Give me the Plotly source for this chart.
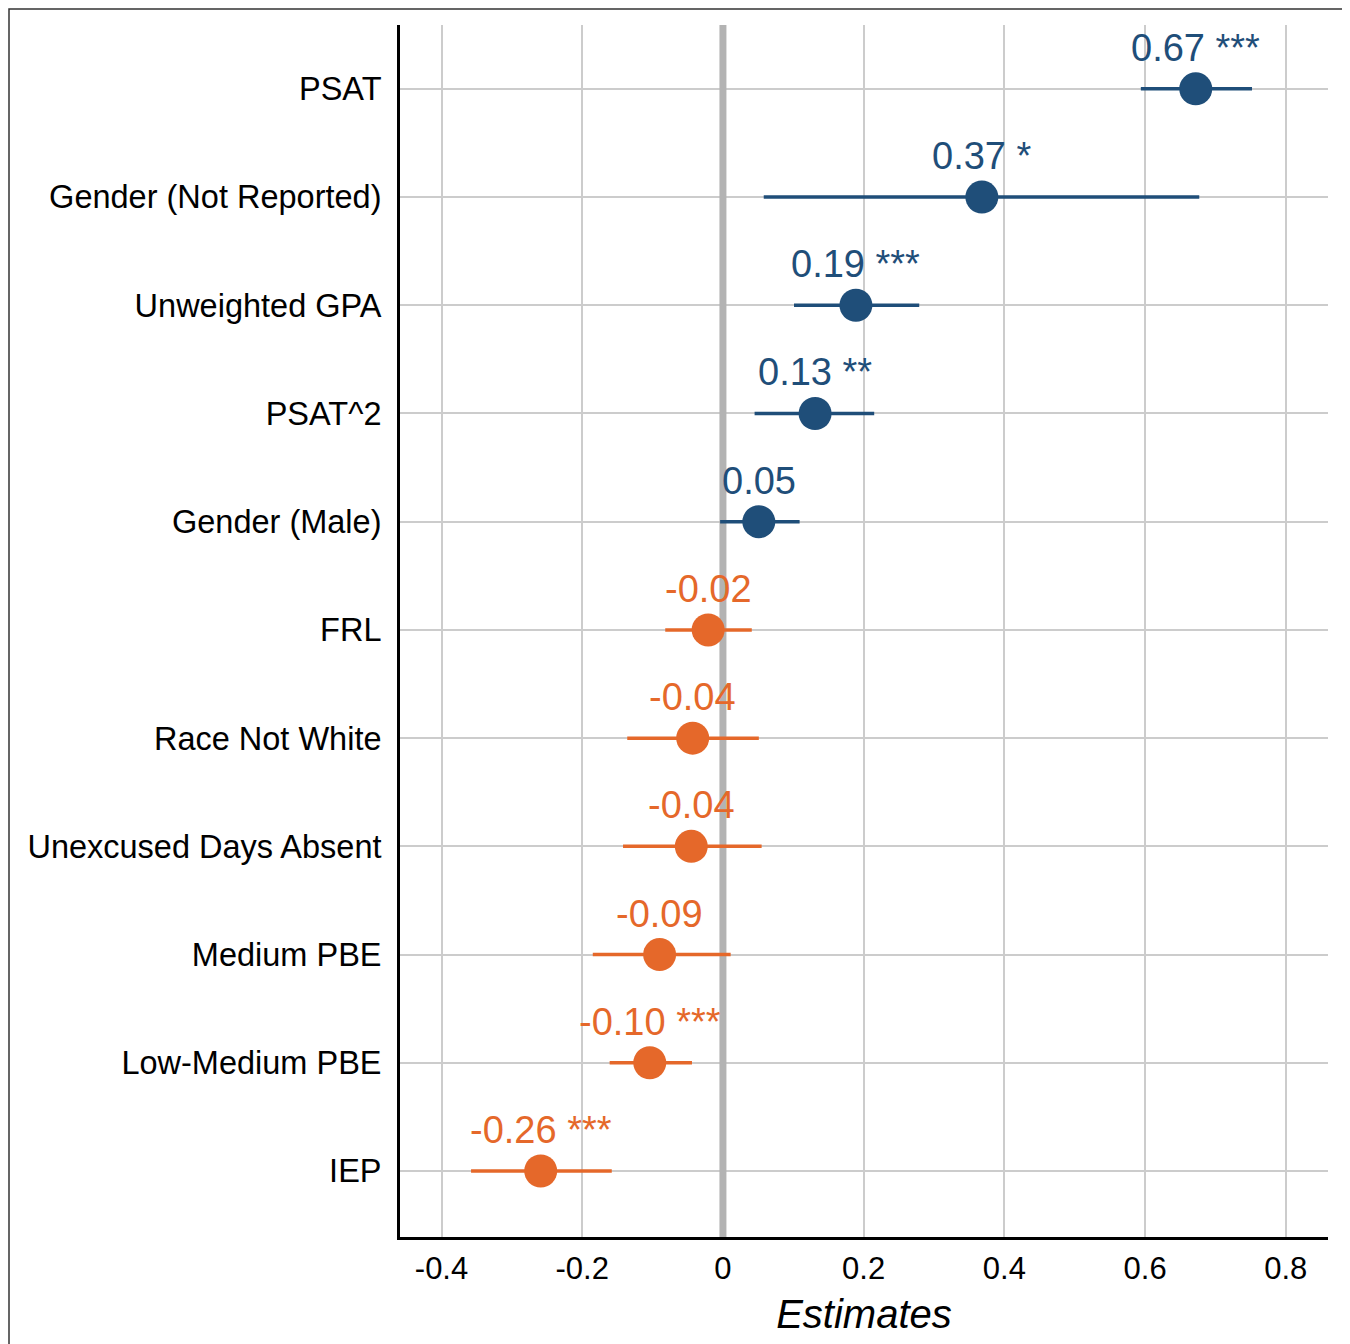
import plotly.graph_objects as go

terms = ["PSAT", "Gender (Not Reported)", "Unweighted GPA", "PSAT^2", "Gender (Male)",
         "FRL", "Race Not White", "Unexcused Days Absent", "Medium PBE",
         "Low-Medium PBE", "IEP"]
estimates = [0.672, 0.368, 0.189, 0.131, 0.051, -0.021, -0.043, -0.045, -0.090, -0.104, -0.259]
ci_low = [0.594, 0.058, 0.101, 0.045, -0.004, -0.082, -0.136, -0.142, -0.185, -0.161, -0.358]
ci_high = [0.752, 0.677, 0.279, 0.215, 0.109, 0.041, 0.051, 0.055, 0.011, -0.044, -0.158]
stars = ["***", "*", "***", "**", "", "", "", "", "", "***", "***"]
labels = ["0.67", "0.37", "0.19", "0.13", "0.05", "-0.02", "-0.04", "-0.04", "-0.09", "-0.10", "-0.26"]

tick_vals = [-0.4, -0.2, 0, 0.2, 0.4, 0.6, 0.8]
tick_text = ["-0.4", "-0.2", "0", "0.2", "0.4", "0.6", "0.8"]

BLUE = "#1F4E79"
ORANGE = "#E5682A"
FONT = "Liberation Sans, Arial, Helvetica, sans-serif"

W, H = 1342, 1336
ML, MR, MT, MB = 392, 22, 17, 107
PW, PH = W - ML - MR, H - MT - MB

ypos = list(range(len(terms)))
y_range = [len(terms) - 1 + 0.61, -0.59]

fig = go.Figure()

# reference line at zero (drawn first, below the estimates)
fig.add_trace(go.Scatter(
    x=[0, 0], y=[y_range[0], y_range[1]], mode="lines",
    line=dict(color="#B3B3B3", width=7), showlegend=False, hoverinfo="skip",
))

for positive, color in [(True, BLUE), (False, ORANGE)]:
    idx = [i for i, v in enumerate(estimates) if (v > 0) == positive]
    fig.add_trace(go.Scatter(
        x=[estimates[i] for i in idx],
        y=[ypos[i] for i in idx],
        mode="markers",
        marker=dict(color=color, size=33, line=dict(width=0)),
        error_x=dict(type="data", symmetric=False,
                     array=[ci_high[i] - estimates[i] for i in idx],
                     arrayminus=[estimates[i] - ci_low[i] for i in idx],
                     color=color, thickness=3.5, width=0),
        showlegend=False,
        hoverinfo="skip",
    ))

annotations = []
for i, t in enumerate(terms):
    color = BLUE if estimates[i] > 0 else ORANGE
    txt = labels[i] + (" " + stars[i] if stars[i] else "")
    annotations.append(dict(
        x=estimates[i], y=ypos[i], xref="x", yref="y",
        text=txt, showarrow=False, xanchor="center", yanchor="middle",
        yshift=41, font=dict(size=38, color=color, family=FONT),
    ))

# frame around the whole figure (in paper coordinates)
fx0 = (1 - ML) / PW
fx1 = (W - 2 - ML) / PW
fy1 = 1 + (MT - 1) / PH
fy0 = -(MB + 20) / PH

fig.update_layout(
    width=W, height=H,
    margin=dict(l=ML, r=MR, t=MT, b=MB),
    paper_bgcolor="white", plot_bgcolor="white",
    font=dict(family=FONT, color="black"),
    annotations=annotations,
    shapes=[
        dict(type="rect", xref="paper", yref="paper", x0=fx0, x1=fx1,
             y0=fy0, y1=fy1, line=dict(color="#333333", width=1.5),
             fillcolor="rgba(0,0,0,0)", layer="above"),
    ],
    xaxis=dict(
        range=[-0.459, 0.86], tickvals=tick_vals, ticktext=tick_text,
        showgrid=True, gridcolor="#CCCCCC", gridwidth=2, zeroline=False,
        showline=True, linecolor="black", linewidth=3,
        ticks="outside", ticklen=2, tickcolor="rgba(0,0,0,0)",
        tickfont=dict(size=31, color="black"),
        title=dict(text="<i>Estimates</i>", font=dict(size=40, color="black"), standoff=15),
    ),
    yaxis=dict(
        tickvals=ypos, ticktext=terms,
        range=y_range,
        showgrid=True, gridcolor="#CCCCCC", gridwidth=2, zeroline=False,
        showline=True, linecolor="black", linewidth=3,
        ticks="outside", ticklen=9, tickcolor="rgba(0,0,0,0)",
        tickfont=dict(size=32.5, color="black"),
    ),
)

fig.write_html("out.html")
